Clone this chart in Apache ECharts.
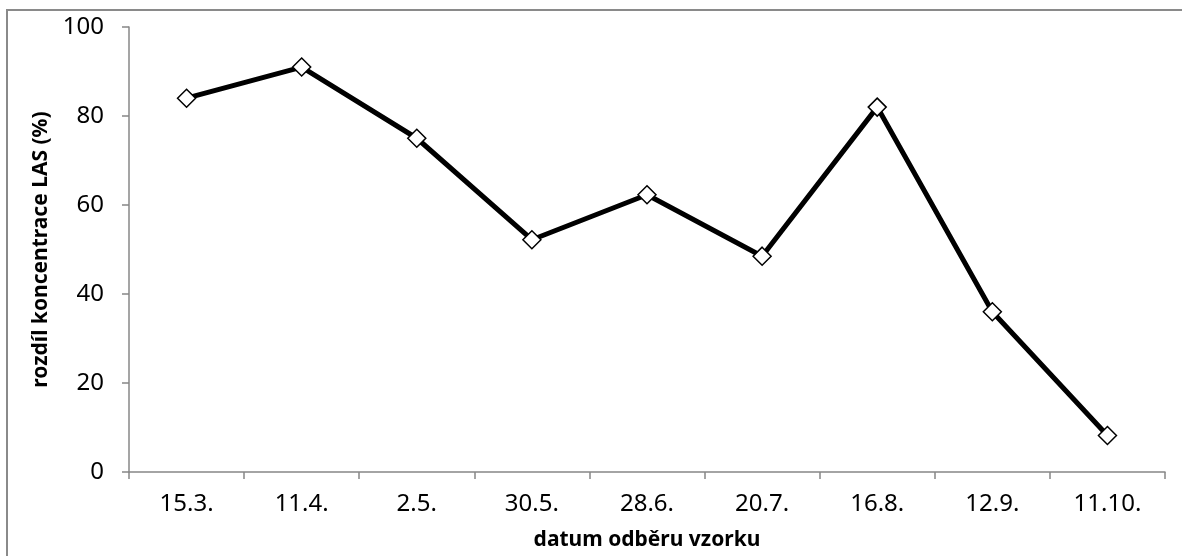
<!DOCTYPE html>
<html>
<head>
<meta charset="utf-8">
<script src="https://cdn.jsdelivr.net/npm/echarts@6/dist/echarts.min.js"></script>
<style>html,body{margin:0;padding:0;background:#fff}#c{width:1182px;height:556px}</style>
</head>
<body>
<div id="c"></div>
<script>
const categories = ['15.3.', '11.4.', '2.5.', '30.5.', '28.6.', '20.7.', '16.8.', '12.9.', '11.10.'];
const values = [84, 91, 75, 52.2, 62.3, 48.5, 82, 36, 8.2];
const yTicks = { min: 0, max: 100, interval: 20 };
const xTitle = 'datum odběru vzorku';
const yTitle = 'rozdíl koncentrace LAS (%)';

const chart = echarts.init(document.getElementById('c'), null, { renderer: 'canvas' });
const axisColor = '#878787';
const font = 'Noto Sans';
chart.setOption({
  animation: false,
  backgroundColor: '#fff',
  grid: { left: 129, right: 17, top: 27, bottom: 84, containLabel: false },
  graphic: [{
    type: 'rect', silent: true,
    shape: { x: 7, y: 10, width: 1300, height: 700 },
    style: { fill: 'none', stroke: '#8a8a8a', lineWidth: 2 }
  }],
  xAxis: {
    type: 'category', data: categories, boundaryGap: true,
    name: xTitle, nameLocation: 'middle', nameGap: 58,
    nameTextStyle: { fontFamily: font, fontWeight: 'bold', fontSize: 21, color: '#000' },
    axisLine: { lineStyle: { color: axisColor, width: 1.5 } },
    axisTick: { show: true, alignWithLabel: false, length: 7, lineStyle: { color: axisColor, width: 1.5 } },
    axisLabel: { fontFamily: font, fontSize: 24, color: '#000', margin: 20 },
    splitLine: { show: false }
  },
  yAxis: {
    type: 'value', min: yTicks.min, max: yTicks.max, interval: yTicks.interval,
    name: yTitle, nameLocation: 'middle', nameGap: 62, nameRotate: 90,
    nameTextStyle: { fontFamily: font, fontWeight: 'bold', fontSize: 21, color: '#000' },
    axisLine: { show: true, lineStyle: { color: axisColor, width: 1.5 } },
    axisTick: { show: true, length: 7, lineStyle: { color: axisColor, width: 1.5 } },
    axisLabel: { fontFamily: font, fontSize: 24, color: '#000', margin: 25 },
    splitLine: { show: false }
  },
  series: [{
    type: 'line', data: values,
    symbol: 'diamond', symbolSize: 18, showAllSymbol: true,
    lineStyle: { color: '#000', width: 5 },
    itemStyle: { color: '#fff', borderColor: '#000', borderWidth: 1.5 },
    z: 3
  }]
});
</script>
</body>
</html>
